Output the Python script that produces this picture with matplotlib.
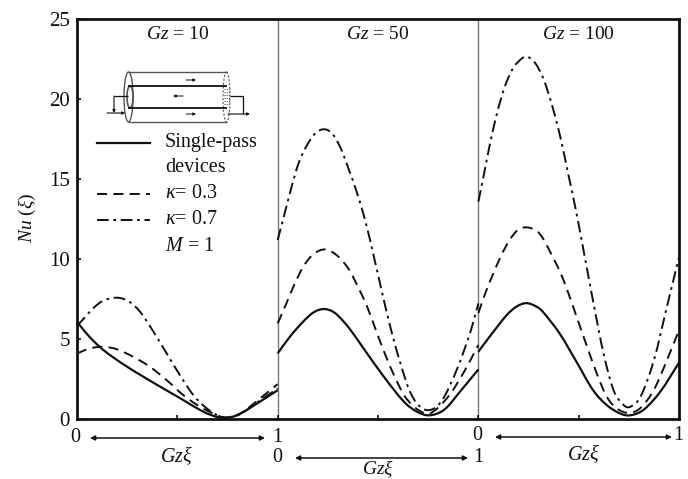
import matplotlib
matplotlib.use("Agg")
import matplotlib.pyplot as plt
from matplotlib.patches import Ellipse, PathPatch
from matplotlib.path import Path

plt.rcParams['font.family'] = ['Liberation Serif', 'DejaVu Serif']
plt.rcParams['mathtext.fontset'] = 'custom'
plt.rcParams['mathtext.rm'] = 'Liberation Serif'
plt.rcParams['mathtext.it'] = 'Liberation Serif:italic'
plt.rcParams['mathtext.bf'] = 'Liberation Serif:bold'

panel_titles = ['$Gz$ = 10', '$Gz$ = 50', '$Gz$ = 100']
y_ticks = [0, 5, 10, 15, 20, 25]

# panel 1 (Gz = 10)
p1_solid_x = [0, .063, .13, .23, .33, .43, .53, .63, .697, .74, .797, .88, 1]
p1_solid_y = [6.05, 5.1, 4.3, 3.4, 2.62, 1.88, 1.15, .42, .1, .04, .2, .8, 1.77]
p1_dash_x = [0, .063, .13, .197, .28, .363, .447, .53, .613, .68, .74, .813, .897, 1]
p1_dash_y = [4.07, 4.38, 4.49, 4.34, 3.86, 3.24, 2.4, 1.46, .73, .31, .06, .31, 1.1, 2.15]
p1_dd_x = [0, .03, .08, .13, .197, .255, .313, .38, .447, .513, .58, .647, .705, .747, .813, .897, 1]
p1_dd_y = [5.8, 6.2, 6.89, 7.37, 7.56, 7.35, 6.7, 5.45, 4.07, 2.71, 1.46, .63, .17, .06, .27, 1.0, 1.88]

# panel 2 (Gz = 50)
p2_solid_x = [0, .063, .13, .18, .23, .28, .33, .38, .43, .53, .63, .695, .755, .83, .91, 1]
p2_solid_y = [4.07, 5.15, 6.1, 6.65, 6.85, 6.65, 6.05, 5.25, 4.35, 2.6, 1.04, .42, .2, .55, 1.7, 3.07]
p2_dash_x = [0, .04, .08, .13, .18, .238, .296, .354, .404, .446, .496, .537, .58, .63, .68, .745, .795, .862, .93, 1]
p2_dash_y = [5.95, 7.1, 8.3, 9.55, 10.3, 10.58, 10.2, 9.35, 8.14, 7.0, 5.3, 3.97, 2.7, 1.46, .73, .3, .63, 1.57, 2.95, 4.6]
p2_dd_x = [0, .03, .063, .105, .146, .188, .23, .27, .313, .354, .396, .438, .48, .52, .562, .612, .662, .72, .78, .83, .895, .96, 1]
p2_dd_y = [11.17, 12.6, 14.2, 16, 17.1, 17.85, 18.1, 17.85, 16.95, 15.6, 14.1, 12.3, 10.1, 7.9, 5.7, 3.44, 1.6, .63, .63, 1.36, 3.13, 5.4, 7.2]

# panel 3 (Gz = 100)
p3_solid_x = [0, .055, .14, .19, .24, .29, .32, .405, .489, .572, .64, .707, .757, .824, .908, 1]
p3_solid_y = [4.18, 5.1, 6.45, 7.0, 7.22, 7.0, 6.7, 5.32, 3.55, 1.77, .84, .31, .2, .55, 1.7, 3.49]
p3_dash_x = [0, .038, .072, .114, .155, .197, .24, .29, .323, .373, .415, .457, .507, .548, .59, .64, .69, .75, .808, .875, .94, 1]
p3_dash_y = [6.6, 7.95, 9.0, 10.2, 11.15, 11.8, 11.96, 11.75, 11.25, 10.05, 8.95, 7.55, 5.74, 4.28, 2.82, 1.36, .63, .35, .66, 1.8, 3.65, 5.53]
p3_dd_x = [0, .022, .055, .089, .13, .172, .214, .24, .28, .323, .365, .407, .448, .49, .532, .574, .624, .674, .724, .757, .808, .875, .94, 1]
p3_dd_y = [13.57, 14.9, 17.0, 18.9, 20.7, 21.9, 22.5, 22.65, 22.3, 21.3, 19.7, 17.7, 15.3, 12.8, 10.0, 7.2, 4.07, 1.77, .84, .73, 1.36, 3.65, 7.0, 10.1]

panels = [
    (p1_solid_x, p1_solid_y, p1_dash_x, p1_dash_y, p1_dd_x, p1_dd_y),
    (p2_solid_x, p2_solid_y, p2_dash_x, p2_dash_y, p2_dd_x, p2_dd_y),
    (p3_solid_x, p3_solid_y, p3_dash_x, p3_dash_y, p3_dd_x, p3_dd_y),
]

W, H = 688, 479
fig = plt.figure(figsize=(W / 100, H / 100), dpi=100, facecolor='white')
ax = fig.add_axes([77 / W, 1 - 418.5 / H, 602 / W, 399.5 / H])
INK = '#111111'
DASH = (0, (5.2, 3.2))
DD = (0, (6, 2.4, 1.4, 2.4))


def smooth_path(xs, ys):
    """Bezier path running through every read point (a smooth line style)."""
    verts = [(xs[0], ys[0])]
    codes = [Path.MOVETO]
    n = len(xs)
    for k in range(n - 1):
        a, b = max(k - 1, 0), min(k + 2, n - 1)
        h = xs[k + 1] - xs[k]
        m0 = (ys[k + 1] - ys[a]) / (xs[k + 1] - xs[a])
        m1 = (ys[b] - ys[k]) / (xs[b] - xs[k])
        verts += [(xs[k] + h / 3, ys[k] + m0 * h / 3),
                  (xs[k + 1] - h / 3, ys[k + 1] - m1 * h / 3),
                  (xs[k + 1], ys[k + 1])]
        codes += [Path.CURVE4] * 3
    return Path(verts, codes)


def curve(xs, ys, offset, lw, ls):
    ax.add_patch(PathPatch(smooth_path([offset + v for v in xs], ys), fill=False,
                           ec=INK, lw=lw, ls=ls, clip_on=False, zorder=3))


for i, (sx, sy, dx, dy, ddx, ddy) in enumerate(panels):
    curve(sx, sy, i, 1.6, '-')
    curve(dx, dy, i, 1.4, DASH)
    curve(ddx, ddy, i, 1.4, DD)
    ax.text(i + 0.5, 24.0, panel_titles[i], ha='center', va='center', fontsize=14, color=INK)

for b in (1, 2):
    ax.axvline(b, color='#777777', lw=1.0, zorder=1)

ax.set_xlim(0, 3)
ax.set_ylim(0, 25)
ax.set_yticks(y_ticks)
ax.set_xticks([0.5, 1, 1.5, 2, 2.5])
ax.set_xticklabels([])
ax.tick_params(axis='both', direction='in', length=3, width=1.2, color=INK, labelcolor=INK)
ax.tick_params(axis='y', labelsize=15, pad=5)
for s in ax.spines.values():
    s.set_linewidth(2.0)
    s.set_color(INK)

# overlay in pixel coordinates for annotations and the schematic
ov = fig.add_axes([0, 0, 1, 1], facecolor='none')
ov.set_xlim(0, W)
ov.set_ylim(H, 0)
ov.axis('off')

ov.text(27, 218, r'$Nu$ ($\xi$)', rotation=90, ha='center', va='center', fontsize=14, color=INK)


def arrow(x0, y0, x1, y1, both=False, lw=1.1, ms=7):
    ov.annotate('', xy=(x1, y1), xytext=(x0, y0),
                arrowprops=dict(arrowstyle='<|-|>' if both else '-|>', color=INK, lw=lw,
                                mutation_scale=ms, shrinkA=0, shrinkB=0))


for x0, x1, ya, xa0, xa1, xg, yg in [
    (75, 277, 437, 90, 265, 176, 456),
    (277, 478, 458, 295, 468, 378, 469),
    (477, 678, 436, 495, 672, 583, 454),
]:
    ov.text(x0, ya, '0', ha='center', va='center', fontsize=14.5, color=INK)
    ov.text(x1, ya, '1', ha='center', va='center', fontsize=14.5, color=INK)
    arrow(xa0, ya + (1 if ya != 458 else 0), xa1, ya + (1 if ya != 458 else 0), both=True)
    ov.text(xg, yg, r'$Gz\xi$', ha='center', va='center', fontsize=14 if ya == 458 else 14.5, color=INK)

# legend
lx0, lx1, tx = 97, 150, 165
ov.plot([lx0, lx1], [142.5, 142.5], color=INK, lw=1.6)
ov.plot([lx0, lx1], [193.5, 193.5], color=INK, lw=1.4, linestyle=DASH)
ov.plot([lx0, lx1], [219.5, 219.5], color=INK, lw=1.4, linestyle=DD)
ov.text(tx, 143, 'Single-pass', va='center', fontsize=14.5, color=INK)
ov.text(tx, 168, 'devices', va='center', fontsize=14.5, color=INK)
ov.text(tx, 194, r'$\kappa$= 0.3', va='center', fontsize=14.5, color=INK)
ov.text(tx, 219, r'$\kappa$= 0.7', va='center', fontsize=14.5, color=INK)
ov.text(tx, 246, '$M$ = 1', va='center', fontsize=14.5, color=INK)

# schematic of the device
G = '#555555'
ov.add_patch(Ellipse((128.5, 97), 9, 50, fill=False, ec=G, lw=1.0))
ov.add_patch(Ellipse((226.5, 97), 7, 50, fill=False, ec=G, lw=0.8, ls=(0, (2, 1.5))))
ov.add_patch(Ellipse((130, 97), 6, 22, fill=False, ec=G, lw=1.2))
for xs, ys, lw, col in [
    ([128, 227], [72, 72], 1.0, G), ([128, 227], [122, 122], 1.0, G),
    ([128, 227], [86, 86], 1.3, INK), ([128, 227], [108, 108], 1.3, INK),
    ([128, 114], [96, 96], 0.9, INK),
    ([230, 243, 243], [96, 96, 114], 0.9, INK),
]:
    ov.plot(xs, ys, color=col, lw=lw, solid_capstyle='butt')
for yd in (89, 92, 95, 98, 101, 104):
    ov.plot([224, 230], [yd, yd], color=G, lw=0.8, ls=(0, (1, 1)))
arrow(114, 96, 114, 113, lw=0.8, ms=4)
arrow(107, 113, 125, 113, lw=0.8, ms=4)
arrow(228, 114, 250, 114, lw=0.8, ms=4)
arrow(186, 80, 196, 80, lw=0.7, ms=4)
arrow(183, 96, 173, 96, lw=0.7, ms=4)
arrow(186, 114, 196, 114, lw=0.7, ms=4)

fig.savefig('out.png', dpi=100)
